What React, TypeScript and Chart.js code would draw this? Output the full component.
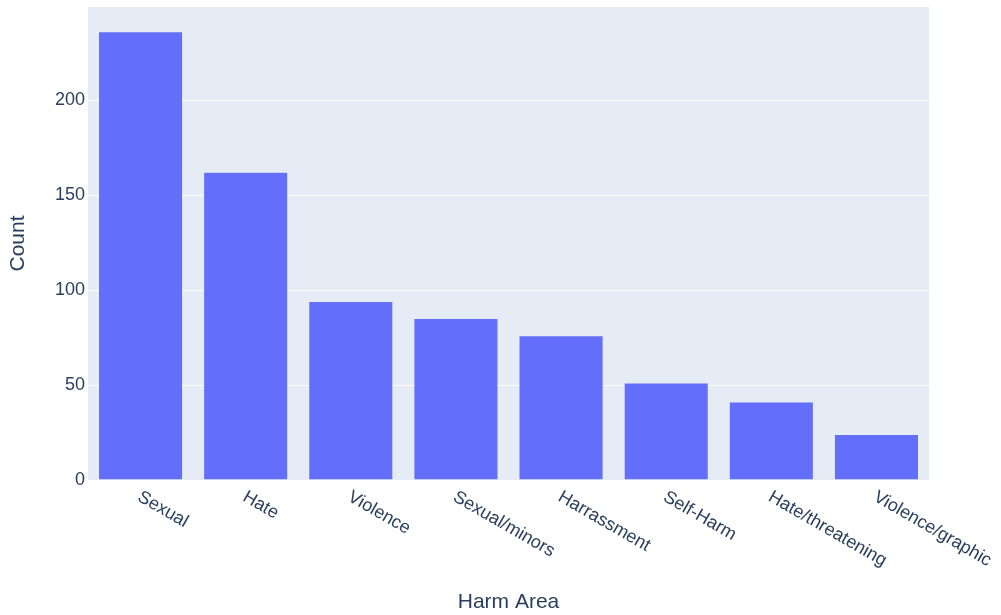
import React, { useEffect, useRef } from "react";
import { Chart, registerables } from "chart.js";

Chart.register(...registerables);

const categories = [
  "Sexual",
  "Hate",
  "Violence",
  "Sexual/minors",
  "Harrassment",
  "Self-Harm",
  "Hate/threatening",
  "Violence/graphic",
];
const counts = [236, 162, 94, 85, 76, 51, 41, 24];
const yTicks = [0, 50, 100, 150, 200];

const FONT = "'Liberation Sans', Arial, sans-serif";
const TEXT = "#2a3f5f";

const bgPlugin = {
  id: "plotBg",
  beforeDraw(chart: any) {
    const { ctx, chartArea } = chart;
    ctx.save();
    ctx.fillStyle = "#E5ECF6";
    ctx.fillRect(chartArea.left, chartArea.top, chartArea.right - chartArea.left, chartArea.bottom - chartArea.top);
    ctx.restore();
  },
};

const xLabelPlugin = {
  id: "rotLabels",
  afterDraw(chart: any) {
    const { ctx, chartArea } = chart;
    const xs = chart.scales.x;
    ctx.save();
    ctx.fillStyle = TEXT;
    ctx.font = `18px ${FONT}`;
    ctx.textAlign = "left";
    ctx.textBaseline = "alphabetic";
    categories.forEach((lab, i) => {
      const x = xs.getPixelForTick(i);
      ctx.save();
      ctx.translate(x - 4, chartArea.bottom + 20);
      ctx.rotate(Math.PI / 6);
      ctx.fillText(lab, 0, 0);
      ctx.restore();
    });
    ctx.restore();
  },
};

export default function App() {
  const ref = useRef<HTMLCanvasElement>(null);
  useEffect(() => {
    document.body.style.margin = "0";
    const chart = new Chart(ref.current as HTMLCanvasElement, {
      type: "bar",
      data: {
        labels: categories,
        datasets: [
          {
            data: counts,
            backgroundColor: "#636efa",
            borderColor: "#E5ECF6",
            borderWidth: 0.5,
            categoryPercentage: 0.8,
            barPercentage: 1,
          },
        ],
      },
      options: {
        animation: false,
        responsive: false,
        layout: { padding: { top: 7, right: 72, left: 0, bottom: 0 } },
        plugins: { legend: { display: false }, tooltip: { enabled: false } },
        scales: {
          x: {
            grid: { display: false, drawTicks: false },
            border: { display: false },
            ticks: { display: false },
            afterFit: (s: any) => {
              s.height = 135;
              s.paddingLeft = 0;
              s.paddingRight = 0;
            },
            title: {
              display: true,
              text: "Harm Area",
              color: TEXT,
              font: { family: FONT, size: 21 },
              padding: { top: 0, bottom: 0 },
            },
          },
          y: {
            min: 0,
            max: 249,
            afterFit: (s: any) => {
              s.width = 88;
              s.paddingTop = 0;
              s.paddingBottom = 0;
            },
            afterBuildTicks: (s: any) => {
              s.ticks = yTicks.map((v) => ({ value: v }));
            },
            grid: { color: "#ffffff", lineWidth: 1, drawTicks: false },
            border: { display: false },
            ticks: {
              color: TEXT,
              font: { family: FONT, size: 18 },
              padding: 3,
            },
            title: {
              display: true,
              text: "Count",
              color: TEXT,
              font: { family: FONT, size: 21 },
              padding: { top: 6, bottom: 0 },
            },
          },
        },
      },
      plugins: [bgPlugin, xLabelPlugin],
    });
    return () => chart.destroy();
  }, []);
  return (
    <div style={{ width: 1001, height: 615 }}>
      <canvas ref={ref} width={1001} height={615} style={{ display: "block" }} />
    </div>
  );
}
